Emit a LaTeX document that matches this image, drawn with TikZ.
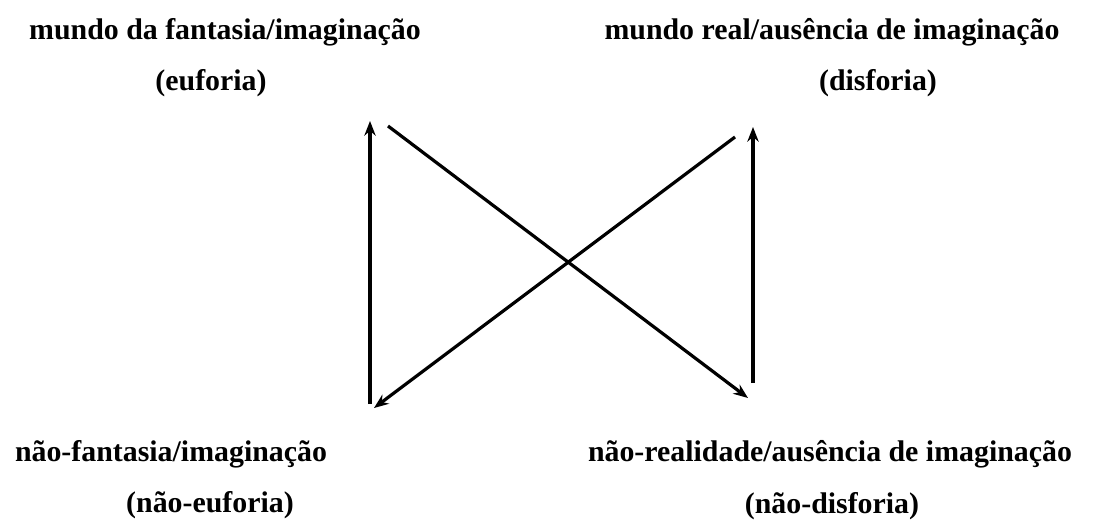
\documentclass[tikz,border=0pt]{standalone}
\usepackage{fontspec}
\setmainfont{Liberation Serif}
\usetikzlibrary{arrows.meta}

\begin{document}
\begin{tikzpicture}[
    x=0.75pt, y=-0.75pt,
    lbl/.style={anchor=base, inner sep=0pt, font=\fontsize{22.4}{27}\selectfont\bfseries},
    >={Stealth[length=11pt, width=8.5pt]},
    line width=2.4pt
]
    \useasboundingbox (0,0) rectangle (1117,521);

    % rótulos (4 cantos)
    \node[lbl] (fant)  at (225,39)  {mundo da fantasia/imaginação};
    \node[lbl] (euf)   at (211,90)  {(euforia)};
    \node[lbl] (real)  at (832,39)  {mundo real/ausência de imaginação};
    \node[lbl] (disf)  at (878,90)  {(disforia)};
    \node[lbl] (nfant) at (171,461) {não-fantasia/imaginação};
    \node[lbl] (neuf)  at (210,512) {(não-euforia)};
    \node[lbl] (nreal) at (830,461) {não-realidade/ausência de imaginação};
    \node[lbl] (ndisf) at (832,513) {(não-disforia)};

    % extremidades das setas
    \coordinate (LB) at (370,404);   % esquerda, embaixo
    \coordinate (LT) at (370,121);   % esquerda, em cima
    \coordinate (RB) at (753,383);   % direita, embaixo
    \coordinate (RT) at (753,127);   % direita, em cima
    \coordinate (DA) at (388,126);   % diagonal 1, início
    \coordinate (DB) at (748,398);   % diagonal 1, ponta
    \coordinate (DC) at (735,137);   % diagonal 2, início
    \coordinate (DD) at (374,408);   % diagonal 2, ponta

    % 1. setas verticais
    \draw[->] (LB) -- (LT);
    \draw[->] (RB) -- (RT);

    % 2. setas cruzadas
    \draw[->] (DA) -- (DB);
    \draw[->] (DC) -- (DD);

\end{tikzpicture}
\end{document}
